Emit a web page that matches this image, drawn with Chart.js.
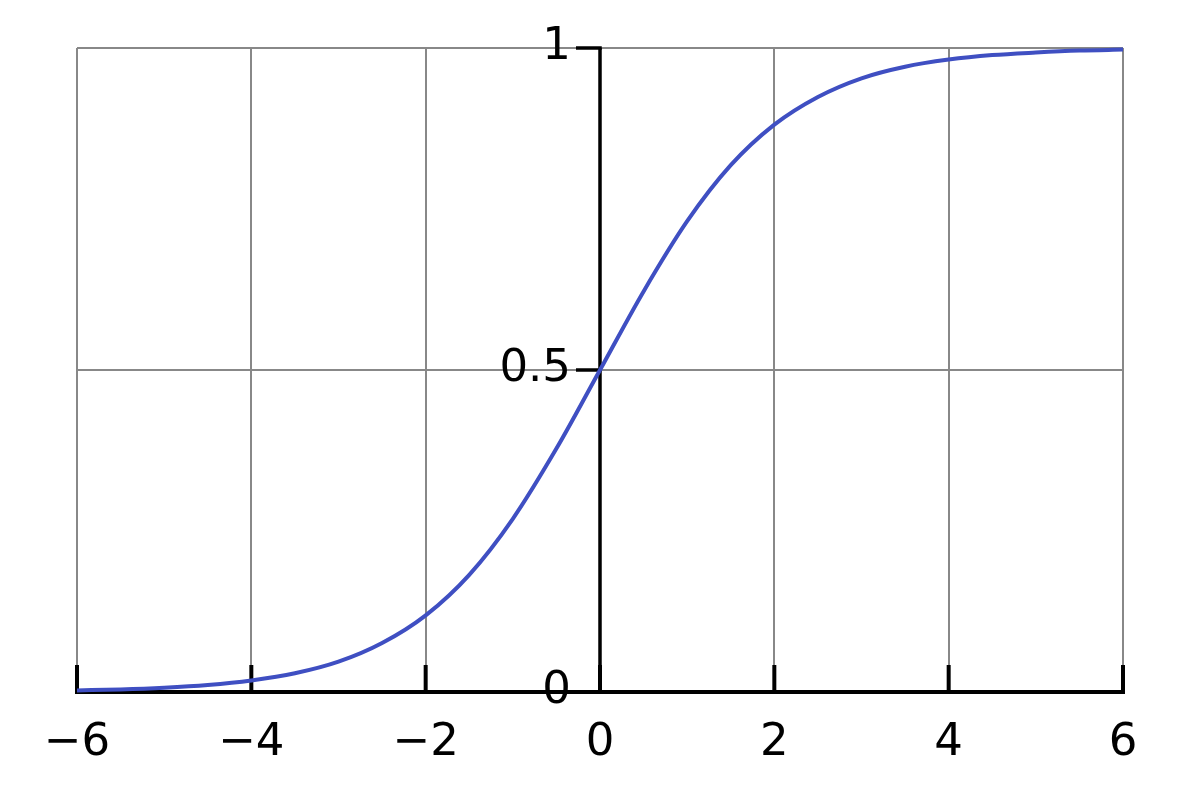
<!DOCTYPE html>
<html>
<head>
<meta charset="utf-8">
<script src="https://cdn.jsdelivr.net/npm/chart.js@4/dist/chart.umd.min.js"></script>
<style>
  html, body { margin: 0; padding: 0; background: #fff; }
  #wrap { width: 1200px; height: 800px; }
</style>
</head>
<body>
<div id="wrap"><canvas id="sigmoid" width="1200" height="800"></canvas></div>
<script>
// قيم المنحنى المقروءة من الصورة
const xValues = [-6, -5.5, -5, -4.5, -4, -3.5, -3, -2.5, -2, -1.5, -1, -0.5, 0,
                 0.5, 1, 1.5, 2, 2.5, 3, 3.5, 4, 4.5, 5, 5.5, 6];
const yValues = [0.0025, 0.004, 0.0067, 0.011, 0.018, 0.029, 0.047, 0.076, 0.119, 0.182, 0.269, 0.378, 0.5,
                 0.622, 0.731, 0.818, 0.881, 0.924, 0.953, 0.971, 0.982, 0.989, 0.993, 0.996, 0.9975];

// تدرجات المحاور
const xTicks = [-6, -4, -2, 0, 2, 4, 6];
const xTickLabels = ['\u22126', '\u22124', '\u22122', '0', '2', '4', '6'];
const yTicks = [0, 0.5, 1];
const yTickLabels = ['0', '0.5', '1'];

const FONT = '45px "DejaVu Sans"';

// رسم المحاور السوداء والعلامات والنصوص قبل المنحنى
const axesPlugin = {
    id: 'axesPlugin',
    beforeDatasetsDraw(chart) {
        const ctx = chart.ctx;
        const xs = chart.scales.x;
        const ys = chart.scales.y;
        const x0 = xs.getPixelForValue(0);
        const yb = ys.getPixelForValue(0);
        const yt = ys.getPixelForValue(1);
        const xl = xs.getPixelForValue(xTicks[0]);
        const xr = xs.getPixelForValue(xTicks[xTicks.length - 1]);

        ctx.save();
        ctx.strokeStyle = '#000';
        ctx.lineCap = 'butt';

        // x axis line
        ctx.lineWidth = 4;
        ctx.beginPath();
        ctx.moveTo(xl - 2, yb);
        ctx.lineTo(xr + 2, yb);
        ctx.stroke();

        // x ticks (upward)
        xTicks.forEach(v => {
            const px = xs.getPixelForValue(v);
            ctx.beginPath();
            ctx.moveTo(px, yb);
            ctx.lineTo(px, yb - 27);
            ctx.stroke();
        });

        // y axis line at x = 0
        ctx.lineWidth = 3.5;
        ctx.beginPath();
        ctx.moveTo(x0, yt);
        ctx.lineTo(x0, yb);
        ctx.stroke();

        // y ticks (leftward)
        yTicks.forEach(v => {
            const py = ys.getPixelForValue(v);
            ctx.beginPath();
            ctx.moveTo(x0 + 1.75, py);
            ctx.lineTo(x0 - 24, py);
            ctx.stroke();
        });

        // labels
        ctx.fillStyle = '#000';
        ctx.font = FONT;
        ctx.textBaseline = 'middle';
        ctx.textAlign = 'right';
        yTicks.forEach((v, i) => {
            ctx.fillText(yTickLabels[i], x0 - 29, ys.getPixelForValue(v) - 1);
        });
        ctx.textAlign = 'center';
        xTicks.forEach((v, i) => {
            ctx.fillText(xTickLabels[i], xs.getPixelForValue(v), yb + 51);
        });
        ctx.restore();
    }
};

const ctx = document.getElementById('sigmoid').getContext('2d');
new Chart(ctx, {
    type: 'line',
    data: {
        datasets: [{
            data: xValues.map((x, i) => ({ x: x, y: yValues[i] })),
            borderColor: '#3f4fc2',
            borderWidth: 4,
            pointRadius: 0,
            fill: false,
            cubicInterpolationMode: 'monotone',
            clip: 6
        }]
    },
    options: {
        responsive: false,
        animation: false,
        layout: { padding: { left: 77, right: 77, top: 48, bottom: 108 } },
        plugins: {
            legend: { display: false },
            tooltip: { enabled: false }
        },
        scales: {
            x: {
                type: 'linear',
                min: -6,
                max: 6,
                afterFit(scale) { scale.height = 0; },
                afterBuildTicks(scale) { scale.ticks = xTicks.map(v => ({ value: v })); },
                ticks: { display: false },
                border: { display: false },
                grid: { color: '#888888', lineWidth: 2, drawTicks: false }
            },
            y: {
                type: 'linear',
                min: 0,
                max: 1,
                afterFit(scale) { scale.width = 0; },
                afterBuildTicks(scale) { scale.ticks = yTicks.map(v => ({ value: v })); },
                ticks: { display: false },
                border: { display: false },
                grid: { color: '#888888', lineWidth: 2, drawTicks: false }
            }
        }
    },
    plugins: [axesPlugin]
});
</script>
</body>
</html>
